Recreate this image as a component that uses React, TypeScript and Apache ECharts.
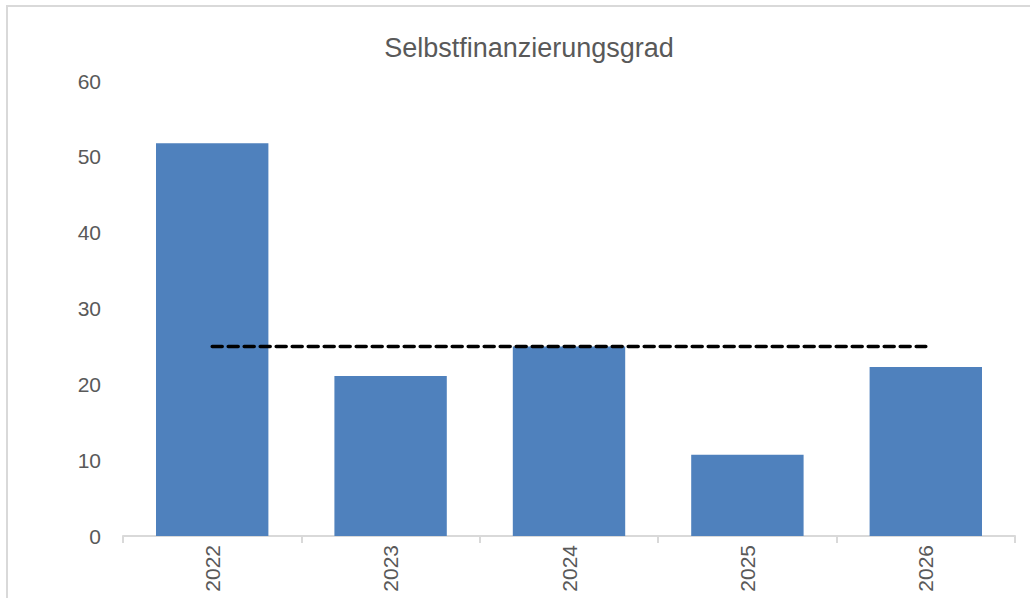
import React, { useEffect, useRef } from "react";
import * as echarts from "echarts";

const categories = ["2022", "2023", "2024", "2025", "2026"];
const selbstfinanzierung = [51.8, 21.1, 25.0, 10.7, 22.3];
const referenzlinie = [25, 25, 25, 25, 25];
const titleText = "Selbstfinanzierungsgrad";

export default function App() {
  const ref = useRef<HTMLDivElement>(null);
  useEffect(() => {
    if (!ref.current) return;
    const chart = echarts.init(ref.current, null, { renderer: "svg" });
    const font = "'Liberation Sans', Arial, sans-serif";
    chart.setOption({
      animation: false,
      backgroundColor: "#ffffff",
      textStyle: { fontFamily: font },
      title: {
        text: titleText,
        left: 524,
        top: 29,
        textAlign: "center",
        textStyle: { fontFamily: font, fontSize: 27, fontWeight: "normal", color: "#595959" },
      },
      graphic: [
        {
          type: "rect",
          shape: { x: 7, y: 6, width: 1200, height: 800 },
          style: { fill: "none", stroke: "#d9d9d9", lineWidth: 2 },
          silent: true,
        },
      ],
      grid: { left: 123, right: 15, top: 81, bottom: 62, containLabel: false },
      xAxis: {
        type: "category",
        data: categories,
        axisLine: { show: true, lineStyle: { color: "#d9d9d9", width: 2 } },
        axisTick: { show: true, length: 7, lineStyle: { color: "#d9d9d9", width: 2 } },
        axisLabel: { rotate: 90, margin: 9, fontSize: 21, color: "#595959", fontFamily: font },
      },
      yAxis: {
        type: "value",
        min: 0,
        max: 60,
        interval: 10,
        axisLine: { show: false },
        axisTick: { show: false },
        splitLine: { show: false },
        axisLabel: { margin: 22, fontSize: 21, color: "#595959", fontFamily: font },
      },
      series: [
        {
          type: "bar",
          data: selbstfinanzierung,
          barWidth: "63%",
          itemStyle: { color: "#4F81BD" },
        },
        {
          type: "line",
          data: referenzlinie,
          symbol: "none",
          lineStyle: { color: "#000000", width: 3.5, type: [10, 6], cap: "round" },
          z: 5,
        },
      ],
    });
    return () => chart.dispose();
  }, []);
  return (
    <div
      ref={ref}
      style={{ position: "fixed", left: 0, top: 0, width: 1030, height: 598 }}
    />
  );
}
